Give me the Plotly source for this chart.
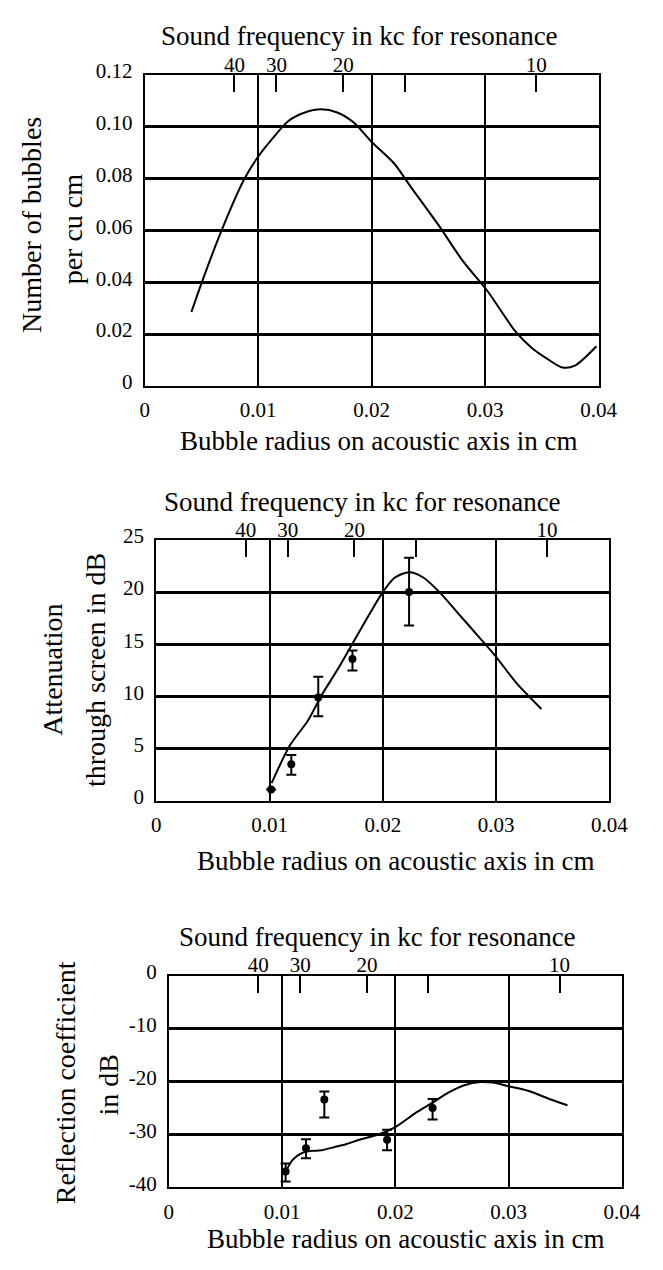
import plotly.graph_objects as go

W, H = 663, 1270

# ---------------- data ----------------
# Panel 1: bubble density vs radius
p1_radius = [0.00411, 0.00518, 0.00696, 0.00875, 0.01000, 0.01125, 0.01268, 0.01411,
             0.01554, 0.01696, 0.01839, 0.02000, 0.02196, 0.02339, 0.02589, 0.02804,
             0.03018, 0.03268, 0.03411, 0.03554, 0.03679, 0.03786, 0.03980]
p1_bubbles = [0.0285, 0.0418, 0.0620, 0.0796, 0.0885, 0.0954, 0.1023, 0.1055,
              0.1067, 0.1055, 0.1017, 0.0941, 0.0859, 0.0771, 0.0620, 0.0481,
              0.0367, 0.0209, 0.0146, 0.0102, 0.0071, 0.0077, 0.0153]

# Panel 2: attenuation through screen
p2_curve_radius = [0.01018, 0.01179, 0.01339, 0.01464, 0.01607, 0.01750, 0.01893, 0.02000,
                   0.02107, 0.02232, 0.02357, 0.02500, 0.02679, 0.02857, 0.03000, 0.03179, 0.03400]
p2_curve_db = [1.7, 5.3, 7.7, 10.2, 12.7, 15.4, 18.1, 20.0,
               21.4, 21.9, 21.4, 20.0, 17.8, 15.6, 13.8, 11.3, 8.8]
p2_pts_radius = [0.01014, 0.01192, 0.01430, 0.01732, 0.02232]
p2_pts_db = [1.1, 3.5, 9.9, 13.6, 20.0]
p2_err_plus = [None, 0.9, 2.0, 0.8, 3.3]
p2_err_minus = [None, 1.0, 1.8, 1.1, 3.2]

# Panel 3: reflection coefficient
p3_curve_radius = [0.01023, 0.01093, 0.01177, 0.01261, 0.01345, 0.01458, 0.01570, 0.01682,
                   0.01851, 0.02000, 0.02188, 0.02329, 0.02468, 0.02609, 0.02750, 0.02860,
                   0.03000, 0.03180, 0.03360, 0.03520]
p3_curve_db = [-37.4, -34.8, -33.5, -33.1, -33.0, -32.4, -31.8, -31.0,
               -30.0, -28.6, -25.8, -24.0, -22.1, -20.7, -20.1, -20.2,
               -20.9, -21.8, -23.3, -24.5]
p3_pts_radius = [0.01031, 0.01211, 0.01373, 0.01927, 0.02329]
p3_pts_db = [-37.0, -32.6, -23.4, -31.0, -25.0]
p3_err_plus = [1.5, 1.7, 1.5, 1.9, 1.7]
p3_err_minus = [1.9, 1.9, 3.4, 2.0, 2.2]

# Axis ticks
radius_ticks = [0, 0.01, 0.02, 0.03, 0.04]
radius_labels = ["0", "0.01", "0.02", "0.03", "0.04"]
freq_tick_radius = [0.0079, 0.0116, 0.0175, 0.0229, 0.0345]
freq_labels = ["40", "30", "20", "", "10"]
p1_yticks = [0, 0.02, 0.04, 0.06, 0.08, 0.10, 0.12]
p1_ylabels = ["0", "0.02", "0.04", "0.06", "0.08", "0.10", "0.12"]
p2_yticks = [0, 5, 10, 15, 20, 25]
p3_yticks = [-40, -30, -20, -10, 0]

top_title = "Sound frequency in kc for resonance"
bottom_title = "Bubble radius on acoustic axis in cm"

FONT = "Liberation Serif, Times New Roman, serif"

# ---------------- layout geometry (pixels) ----------------
panels = [
    dict(x0=145, x1=616, y0=60, y1=377, yr=[0, 0.12], yt=p1_yticks, yl=p1_ylabels,
         top=(368, 20), bot=(388, 433),
         ytitle=[("Number of bubbles", 28, 213), ("per cu cm", 70, 217)]),
    dict(x0=157, x1=627, y0=534, y1=800, yr=[0, 25], yt=p2_yticks, yl=[str(v) for v in p2_yticks],
         top=(371, 495), bot=(405, 861),
         ytitle=[("Attenuation", 49, 666), ("through screen in dB", 94, 667)]),
    dict(x0=170, x1=640, y0=978, y1=1194, yr=[-40, 0], yt=p3_yticks, yl=[str(v) for v in p3_yticks],
         top=(386, 939), bot=(416, 1247),
         ytitle=[("Reflection coefficient", 63, 1087), ("in dB", 107, 1090)]),
]

fig = go.Figure()

line_style = dict(color="black", width=2, shape="spline", smoothing=0.8)

fig.add_trace(go.Scatter(x=p1_radius, y=p1_bubbles, mode="lines", line=line_style,
                         xaxis="x", yaxis="y", showlegend=False, hoverinfo="skip"))

fig.add_trace(go.Scatter(x=p2_curve_radius, y=p2_curve_db, mode="lines", line=line_style,
                         xaxis="x2", yaxis="y2", showlegend=False, hoverinfo="skip"))
fig.add_trace(go.Scatter(x=p2_pts_radius, y=p2_pts_db, mode="markers",
                         marker=dict(color="black", size=8),
                         error_y=dict(type="data", symmetric=False, array=p2_err_plus,
                                      arrayminus=p2_err_minus, color="black", thickness=2, width=5),
                         xaxis="x2", yaxis="y2", showlegend=False, hoverinfo="skip"))

fig.add_trace(go.Scatter(x=p3_curve_radius, y=p3_curve_db, mode="lines", line=line_style,
                         xaxis="x3", yaxis="y3", showlegend=False, hoverinfo="skip"))
fig.add_trace(go.Scatter(x=p3_pts_radius, y=p3_pts_db, mode="markers",
                         marker=dict(color="black", size=8),
                         error_y=dict(type="data", symmetric=False, array=p3_err_plus,
                                      arrayminus=p3_err_minus, color="black", thickness=2, width=5),
                         xaxis="x3", yaxis="y3", showlegend=False, hoverinfo="skip"))

# empty traces to attach the top (frequency) axes
for i in range(3):
    fig.add_trace(go.Scatter(x=[], y=[], xaxis=f"x{i + 4}", yaxis="y" if i == 0 else f"y{i + 1}",
                             showlegend=False, hoverinfo="skip"))

tickfont = dict(family=FONT, size=21, color="black")
annotations = []
layout = {}
for i, p in enumerate(panels):
    n = "" if i == 0 else str(i + 1)
    xd = [p["x0"] / W, p["x1"] / W]
    yd = [1 - p["y1"] / H, 1 - p["y0"] / H]
    layout[f"xaxis{n}"] = dict(
        domain=xd, range=[0, 0.04], anchor=f"y{n}",
        tickmode="array", tickvals=radius_ticks, ticktext=radius_labels,
        showgrid=True, gridcolor="black", gridwidth=1.5, zeroline=False,
        showline=True, linecolor="black", linewidth=2, mirror=True,
        ticks="", tickfont=tickfont, ticklabelstandoff=4, fixedrange=True)
    layout[f"yaxis{n}"] = dict(
        domain=yd, range=p["yr"], anchor=f"x{n}",
        tickmode="array", tickvals=p["yt"], ticktext=p["yl"],
        showgrid=True, gridcolor="black", gridwidth=2.5, zeroline=False,
        showline=True, linecolor="black", linewidth=2, mirror=True,
        ticks="", tickfont=tickfont, ticklabelstandoff=6, ticklabelshift=-4,
        fixedrange=True)
    layout[f"xaxis{i + 4}"] = dict(
        overlaying=f"x{n}", side="top", anchor=f"y{n}", range=[0, 0.04],
        tickmode="array", tickvals=freq_tick_radius, ticktext=freq_labels,
        ticks="inside", ticklen=17, tickwidth=2, tickcolor="black",
        showgrid=False, zeroline=False, showline=False,
        tickfont=tickfont, ticklabelstandoff=-2, fixedrange=True)

    annotations.append(dict(text=top_title, x=p["top"][0] / W, y=1 - p["top"][1] / H,
                            xref="paper", yref="paper", showarrow=False,
                            xanchor="center", yanchor="middle",
                            font=dict(family=FONT, size=27, color="black")))
    annotations.append(dict(text=bottom_title, x=p["bot"][0] / W, y=1 - p["bot"][1] / H,
                            xref="paper", yref="paper", showarrow=False,
                            xanchor="center", yanchor="middle",
                            font=dict(family=FONT, size=27, color="black")))
    for txt, px, py in p["ytitle"]:
        annotations.append(dict(text=txt, x=px / W, y=1 - py / H, textangle=-90,
                                xref="paper", yref="paper", showarrow=False,
                                xanchor="center", yanchor="middle",
                                font=dict(family=FONT, size=28, color="black")))

fig.update_layout(
    width=W, height=H,
    margin=dict(l=0, r=0, t=0, b=0),
    paper_bgcolor="white", plot_bgcolor="white",
    annotations=annotations,
    showlegend=False,
    **layout,
)

fig.write_html("out.html", config={"displayModeBar": False})
